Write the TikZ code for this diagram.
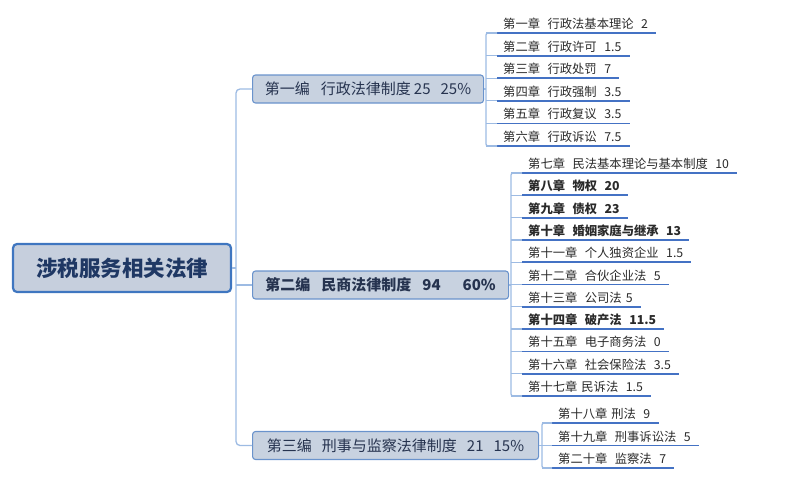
\documentclass[tikz,border=0pt]{standalone}
\usepackage{fontspec}
\setmainfont{Noto Sans CJK SC}
\definecolor{connc}{HTML}{9DBBE3}
\definecolor{ulc}{HTML}{4472C4}
\definecolor{rootfill}{HTML}{C6CFDD}
\definecolor{rootdraw}{HTML}{3F76C0}
\definecolor{brfill}{HTML}{C8D2E0}
\definecolor{brdraw}{HTML}{6A93CC}
\definecolor{roottext}{HTML}{1F3864}
\definecolor{brtext}{HTML}{26334F}
\definecolor{chtext}{HTML}{2A2A2A}
\newcommand{\gapA}{\hspace{7.5pt}}
\newcommand{\gapB}{\hspace{4pt}}
\tikzset{
  conn/.style={draw=connc, line width=1.3pt},
  uline/.style={draw=ulc, line width=1.8pt},
  rootbox/.style={draw=rootdraw, fill=rootfill, line width=2.2pt, rounded corners=4pt,
     minimum width=218pt, minimum height=48pt, font=\fontsize{21.5}{24}\selectfont\bfseries, text=roottext},
  brbox/.style={draw=brdraw, fill=brfill, line width=1.1pt, rounded corners=3pt,
     minimum height=28pt, inner xsep=9pt, font=\fontsize{15}{18}\selectfont, text=brtext, anchor=west},
  chaptext/.style={inner xsep=6pt, inner ysep=0pt, font=\fontsize{12.3}{14}\selectfont, text=chtext, anchor=base west},
}
\newcommand{\chap}[5]{%
  \node[chaptext] (#1) at ({#3},{#4-4.5}) {#5};
  \coordinate (#1l) at ({#3},{#4});
  \coordinate (#1b) at ({#2},{#4});
  \coordinate (#1e) at ([xshift=2pt]#1.east);
  \draw[conn] (#1b) -- (#1l);
  \draw[uline] (#1l) -- (#1l -| #1e);
}
\begin{document}
\begin{tikzpicture}[x=1pt,y=-1pt]
\useasboundingbox (0,0) rectangle (787,480);

% root
\node[rootbox] (root) at (122,268) {涉税服务相关法律};

% branches
\node[brbox, minimum width=231pt] (b1) at (252,89) {第一编\hspace{11pt}行政法律制度\hspace{3pt}25\hspace{10pt}25\%};
\node[brbox, minimum width=256pt, font=\fontsize{15}{18}\selectfont\bfseries] (b2) at (252,285) {第二编\hspace{11pt}民商法律制度\hspace{11pt}94\hspace{22pt}60\%};
\node[brbox, minimum width=286pt] (b3) at (252,445.5) {第三编\hspace{10pt}刑事与监察法律制度\hspace{10pt}21\hspace{10pt}15\%};

% trunk
\coordinate (tr) at (236,268);
\coordinate (t1) at (236,89);
\coordinate (t2) at (236,285);
\coordinate (t3) at (236,445.5);
\draw[conn] (root.east) -- (tr);
\draw[conn, rounded corners=4pt] (b1.west) -- (t1) -- (t3) -- (b3.west);
\draw[conn] (t2) -- (b2.west);

% branch 1 chapters
\chap{c1}{486}{497}{33}{第一章\gapA 行政法基本理论\gapA 2}
\chap{c2}{486}{497}{55.6}{第二章\gapA 行政许可\gapA 1.5}
\chap{c3}{486}{497}{78.2}{第三章\gapA 行政处罚\gapA 7}
\chap{c4}{486}{497}{100.8}{第四章\gapA 行政强制\gapA 3.5}
\chap{c5}{486}{497}{123.4}{第五章\gapA 行政复议\gapA 3.5}
\chap{c6}{486}{497}{146}{第六章\gapA 行政诉讼\gapA 7.5}
\coordinate (k1) at (486,89);
\draw[conn] (b1.east) -- (k1);
\draw[conn, rounded corners=2pt] (c1l) -- (c1b) -- (c6b) -- (c6l);

% branch 2 chapters
\chap{c7}{511}{522}{173}{第七章\gapA 民法基本理论与基本制度\gapA 10}
\chap{c8}{511}{522}{195.3}{\bfseries 第八章\gapA 物权\gapA 20}
\chap{c9}{511}{522}{217.6}{\bfseries 第九章\gapA 债权\gapA 23}
\chap{c10}{511}{522}{239.9}{\bfseries 第十章\gapA 婚姻家庭与继承\gapA 13}
\chap{c11}{511}{522}{262.2}{第十一章\gapA 个人独资企业\gapA 1.5}
\chap{c12}{511}{522}{284.5}{第十二章\gapA 合伙企业法\gapA 5}
\chap{c13}{511}{522}{306.8}{第十三章\gapA 公司法\gapB 5}
\chap{c14}{511}{522}{329.1}{\bfseries 第十四章\gapA 破产法\gapA 11.5}
\chap{c15}{511}{522}{351.4}{第十五章\gapA 电子商务法\gapA 0}
\chap{c16}{511}{522}{373.7}{第十六章\gapA 社会保险法\gapA 3.5}
\chap{c17}{511}{522}{396}{第十七章\gapB 民诉法\gapA 1.5}
\coordinate (k2) at (511,285);
\draw[conn] (b2.east) -- (k2);
\draw[conn, rounded corners=2pt] (c7l) -- (c7b) -- (c17b) -- (c17l);

% branch 3 chapters
\chap{c18}{542}{552}{423}{第十八章\gapB 刑法\gapA 9}
\chap{c19}{542}{552}{445.5}{第十九章\gapA 刑事诉讼法\gapA 5}
\chap{c20}{542}{552}{468}{第二十章\gapA 监察法\gapA 7}
\coordinate (k3) at (542,445.5);
\draw[conn] (b3.east) -- (k3);
\draw[conn, rounded corners=2pt] (c18l) -- (c18b) -- (c20b) -- (c20l);
\end{tikzpicture}
\end{document}
